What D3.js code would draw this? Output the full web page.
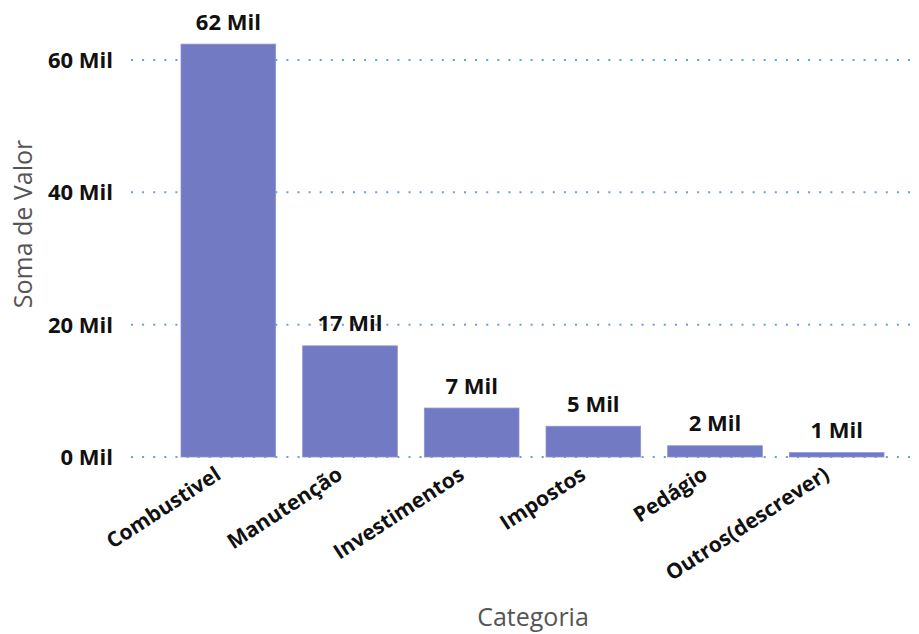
<!DOCTYPE html>
<html>
<head>
<meta charset="utf-8">
<script src="https://cdn.jsdelivr.net/npm/d3@7"></script>
<style>
  body { margin: 0; background: #fff; }
  text { font-family: "Open Sans", "Noto Sans", sans-serif; }
</style>
</head>
<body>
<div class="chart"></div>
<script>
// data (values in thousands)
var categories = ["Combustivel", "Manutenção", "Investimentos", "Impostos", "Pedágio", "Outros(descrever)"];
var values = [62.4, 16.8, 7.4, 4.65, 1.7, 0.66];
var yTicks = [0, 20, 40, 60];

var W = 919, H = 634;
var margin = {left: 131, right: 4};

var svg = d3.select(".chart").append("svg")
    .attr("width", W)
    .attr("height", H);

var x = d3.scaleBand()
    .domain(categories)
    .range([167.5, 897.5])
    .paddingInner(0.222)
    .paddingOuter(0.111);

var y = d3.scaleLinear()
    .domain([0, 60])
    .range([457, 60]);

// dotted gridlines
svg.append("g")
    .selectAll("line")
    .data(yTicks)
    .enter().append("line")
      .attr("x1", margin.left)
      .attr("x2", W - margin.right)
      .attr("y1", function(d) { return y(d); })
      .attr("y2", function(d) { return y(d); })
      .attr("stroke", "#4a8fd8")
      .attr("stroke-width", 2)
      .attr("stroke-dasharray", "2,9.1")
      .attr("stroke-opacity", 0.85);

// y tick labels
svg.append("g")
    .selectAll("text")
    .data(yTicks)
    .enter().append("text")
      .attr("x", 113)
      .attr("y", function(d) { return y(d); })
      .attr("dy", "0.36em")
      .attr("text-anchor", "end")
      .attr("font-size", 22)
      .attr("font-weight", "bold")
      .attr("fill", "#111")
      .text(function(d) { return d + " Mil"; });

// bars
svg.append("g")
    .selectAll("rect")
    .data(values)
    .enter().append("rect")
      .attr("x", function(d, i) { return x(categories[i]); })
      .attr("width", x.bandwidth())
      .attr("y", function(d) { return y(d); })
      .attr("height", function(d) { return y(0) - y(d); })
      .attr("fill", "#717ac2")
      .attr("stroke", "#8d95d0")
      .attr("stroke-width", 0.8);

// value labels
svg.append("g")
    .selectAll("text")
    .data(values)
    .enter().append("text")
      .attr("x", function(d, i) { return x(categories[i]) + x.bandwidth() / 2; })
      .attr("y", function(d) { return y(d) - 14.5; })
      .attr("text-anchor", "middle")
      .attr("font-size", 22)
      .attr("font-weight", "bold")
      .attr("fill", "#111")
      .text(function(d) { return Math.round(d) + " Mil"; });

// category labels, rotated
svg.append("g")
    .selectAll("text")
    .data(categories)
    .enter().append("text")
      .attr("transform", function(d) {
        return "translate(" + (x(d) + x.bandwidth() / 2 - 6) + ",478) rotate(-33)";
      })
      .attr("text-anchor", "end")
      .attr("font-size", 21)
      .attr("font-weight", "bold")
      .attr("fill", "#111")
      .text(function(d) { return d; });

// axis titles
svg.append("text")
    .attr("transform", "translate(32,224) rotate(-90)")
    .attr("text-anchor", "middle")
    .attr("font-size", 25)
    .attr("fill", "#555")
    .text("Soma de Valor");

svg.append("text")
    .attr("x", 533)
    .attr("y", 626)
    .attr("text-anchor", "middle")
    .attr("font-size", 25)
    .attr("fill", "#555")
    .text("Categoria");
</script>
</body>
</html>
